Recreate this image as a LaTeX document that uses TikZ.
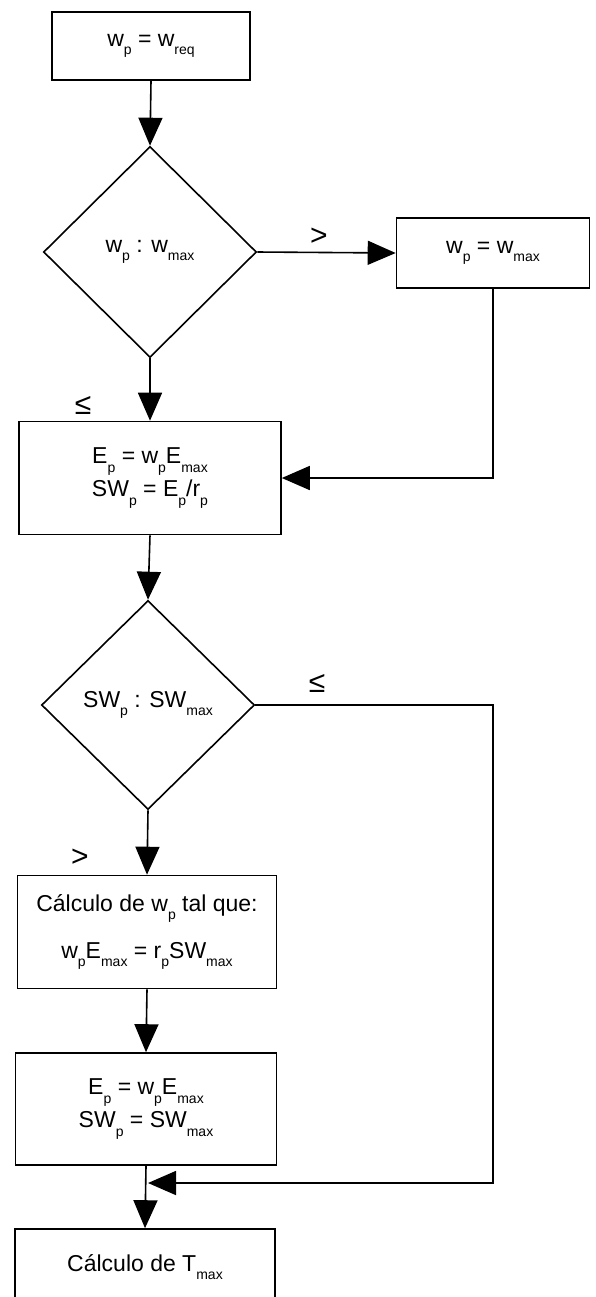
\documentclass[tikz,border=0pt]{standalone}
\usepackage{fontspec}
\setmainfont{Liberation Sans}
\usetikzlibrary{shapes.geometric,arrows.meta}
\newcommand{\lo}[1]{\raisebox{-0.7ex}{\scriptsize #1}}

\begin{document}
\begin{tikzpicture}[x=0.5pt, y=-0.5pt, line width=0.8pt,
		font=\fontsize{11.5}{16.5}\selectfont,
		box/.style={draw, rectangle, align=center, inner sep=0pt},
		test/.style={draw, diamond, aspect=1, inner sep=0pt},
		branch/.style={font=\fontsize{15}{15}\selectfont},
		flow/.style={-{Triangle[length=14pt,width=12pt]}}]
			\clip (0,0) rectangle (595,1297);
			\fill [white] (0,0) rectangle (595,1297);
			% main column
			\node[box, minimum width=99pt, minimum height=34pt] (req) at (151,46) {w\lo{p} = w\lo{req}};
			\node[test, minimum width=106.5pt, minimum height=105.5pt] (cmpw) at (150,252) {w\lo{p} : w\lo{max}};
			\node[box, minimum width=96.5pt, minimum height=35pt] (setw) at (493,253) {w\lo{p} = w\lo{max}};
			\node[box, minimum width=131pt, minimum height=56.5pt] (energy) at (150,478) {E\lo{p} = w\lo{p}E\lo{max}\\SW\lo{p} = E\lo{p}/r\lo{p}};
			\node[box, minimum width=129.5pt, minimum height=56.5pt] (calcw) at (147,932) {C\'alculo de w\lo{p} tal que:\\[7pt]w\lo{p}E\lo{max} = r\lo{p}SW\lo{max}};
			\node[test, minimum width=106.5pt, minimum height=104.5pt] (cmpsw) at (148,705) {SW\lo{p} : SW\lo{max}};
			\node[box, minimum width=130.5pt, minimum height=56pt] (setsw) at (146,1109) {E\lo{p} = w\lo{p}E\lo{max}\\SW\lo{p} = SW\lo{max}};
			\node[box, minimum width=130pt, minimum height=38pt] (tmax) at (145,1267) {C\'alculo de T\lo{max}};
			\coordinate (join) at (148,1183);
			% branch labels
			\node[branch] (gt1) at (319,237) {>};
			\node[branch] (le1) at (83,405) {≤};
			\node[branch] (le2) at (317,683) {≤};
			\node[branch] (gt2) at (80,858) {>};
			% connectors
			\draw[flow] (req.south) -- (cmpw.north);
			\draw[flow] (cmpw.east) -- (setw.west);
			\draw[flow] (cmpw.south) -- (energy.north);
			\draw[flow] (setw.south) |- (energy.east);
			\draw[flow] (energy.south) -- (cmpsw.north);
			\draw[flow] (cmpsw.east) -- (cmpsw.east -| setw.south) |- (join);
			\draw[flow] (cmpsw.south) -- (calcw.north);
			\draw[flow] (calcw.south) -- (setsw.north);
			\draw[flow] (setsw.south) -- (tmax.north);
		\end{tikzpicture}
\end{document}
